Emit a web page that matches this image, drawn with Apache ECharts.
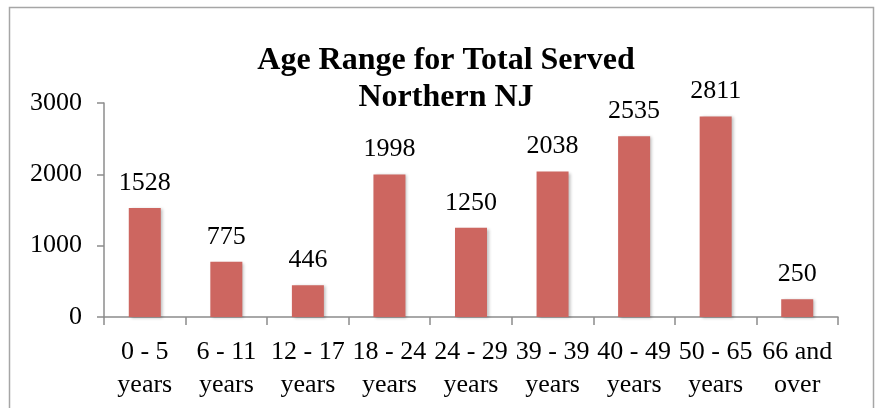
<!DOCTYPE html>
<html style="height:100%">
<meta charset="utf-8" />
<title>Age Range for Total Served</title>
<script src="https://cdn.jsdelivr.net/npm/echarts@6/dist/echarts.min.js"></script>
<body style="margin:0;height:100%;background:#fff">
<div id="chartmain" style="width:876px;height:408px;"></div>
<script type="text/javascript">
    var categories = ['0 - 5\nyears', '6 - 11\nyears', '12 - 17\nyears', '18 - 24\nyears', '24 - 29\nyears',
                      '39 - 39\nyears', '40 - 49\nyears', '50 - 65\nyears', '66 and\nover'];
    var served = [1528, 775, 446, 1998, 1250, 2038, 2535, 2811, 250];
    var yTicks = [0, 1000, 2000, 3000];

    var serif = '"Liberation Serif", "DejaVu Serif", serif';
    var myChart = echarts.init(document.getElementById('chartmain'));
    var option = {
        backgroundColor: '#fff',
        animation: false,
        title: {
            text: 'Age Range for Total Served\nNorthern NJ',
            left: 441,
            textAlign: 'center',
            top: 37,
            textStyle: { fontFamily: serif, fontWeight: 'bold', fontSize: 32, color: '#000', lineHeight: 37 }
        },
        graphic: [{
            type: 'rect',
            shape: { x: 9.5, y: 7.5, width: 864, height: 420 },
            style: { fill: 'none', stroke: '#a6a6a6', lineWidth: 1.5 },
            silent: true
        }],
        grid: { left: 104, right: 38, top: 103, bottom: 91 },
        xAxis: {
            type: 'category',
            data: categories,
            axisLine: { lineStyle: { color: '#8c8c8c', width: 1.5 } },
            axisTick: { show: true, length: 8, lineStyle: { color: '#8c8c8c', width: 1.5 } },
            axisLabel: { fontFamily: serif, fontSize: 26, color: '#000', lineHeight: 33, margin: 19, interval: 0 }
        },
        yAxis: {
            type: 'value',
            min: yTicks[0],
            max: yTicks[yTicks.length - 1],
            interval: 1000,
            splitLine: { show: false },
            axisLine: { show: true, lineStyle: { color: '#8c8c8c', width: 1.5 } },
            axisTick: { show: true, length: 7, inside: false, lineStyle: { color: '#8c8c8c', width: 1.5 } },
            axisLabel: { fontFamily: serif, fontSize: 26, color: '#000', margin: 22, formatter: function (v) { return String(v); } }
        },
        series: [{
            type: 'bar',
            data: served,
            barWidth: 32,
            itemStyle: {
                color: '#cd6660',
                shadowColor: 'rgba(0,0,0,0.25)',
                shadowBlur: 3,
                shadowOffsetX: 2,
                shadowOffsetY: 1
            },
            label: {
                show: true,
                position: 'top',
                distance: 12,
                fontFamily: serif,
                fontSize: 26,
                color: '#000'
            }
        }]
    };
    myChart.setOption(option);
</script>
</body>
</html>
